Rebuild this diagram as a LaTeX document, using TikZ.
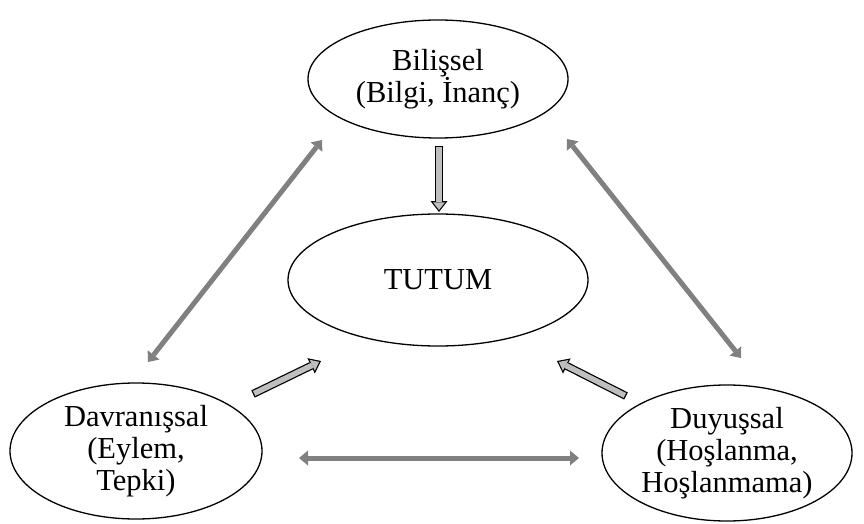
\documentclass[tikz,border=0pt]{standalone}
\usepackage{fontspec}
\setmainfont{Liberation Serif}
\usetikzlibrary{shapes.geometric,arrows.meta}
\begin{document}
\begin{tikzpicture}[x=1pt, y=-1pt]
    \tikzstyle{part_style} = [ellipse, draw=black, line width=1.3pt, inner sep=0pt, align=center, font=\fontsize{30.5}{32}\selectfont]
    \tikzstyle{link_style} = [draw=gray, line width=5pt, {Triangle[length=9pt,width=15pt,line width=0pt]}-{Triangle[length=9pt,width=15pt,line width=0pt]}]
    \tikzstyle{push_outer} = [draw=black, line width=8pt, -{Triangle[length=11pt,width=17pt,line width=0pt]}]
    \tikzstyle{push_inner} = [draw=gray!50, line width=5.5pt, shorten <=1.25pt, shorten >=2pt, -{Triangle[length=7.7pt,width=12pt,line width=0pt]}]
    \useasboundingbox (0,0) rectangle (864,524);
    \node[part_style, minimum width=260pt, minimum height=118pt] (bil) at (438,79) {Bilişsel\\(Bilgi, İnanç)};
    \node[part_style, minimum width=300pt, minimum height=132pt] (tut) at (438,280) {TUTUM};
    \node[part_style, minimum width=252pt, minimum height=136pt] (dav) at (136,451) {Davranışsal\\(Eylem,\\Tepki)};
    \node[part_style, minimum width=250pt, minimum height=136pt] (duy) at (727,453) {Duyuşsal\\(Hoşlanma,\\Hoşlanmama)};

    % ends of the arrows
    \coordinate (bil_out) at (439,146);
    \coordinate (tut_top) at (439,212);
    \coordinate (dav_out) at (253,394);
    \coordinate (tut_left) at (321,361);
    \coordinate (duy_out) at (626,396);
    \coordinate (tut_right) at (557,361);
    \coordinate (dav_up) at (148,362);
    \coordinate (bil_left) at (322,140);
    \coordinate (bil_right) at (567,139);
    \coordinate (duy_up) at (741,358);
    \coordinate (dav_right) at (299,458);
    \coordinate (duy_left) at (579,458);

    \draw[push_outer] (bil_out) -- (tut_top);
    \draw[push_inner] (bil_out) -- (tut_top);
    \draw[push_outer] (dav_out) -- (tut_left);
    \draw[push_inner] (dav_out) -- (tut_left);
    \draw[push_outer] (duy_out) -- (tut_right);
    \draw[push_inner] (duy_out) -- (tut_right);

    \draw[link_style] (dav_up) -- (bil_left);
    \draw[link_style] (bil_right) -- (duy_up);
    \draw[link_style] (dav_right) -- (duy_left);
\end{tikzpicture}
\end{document}
